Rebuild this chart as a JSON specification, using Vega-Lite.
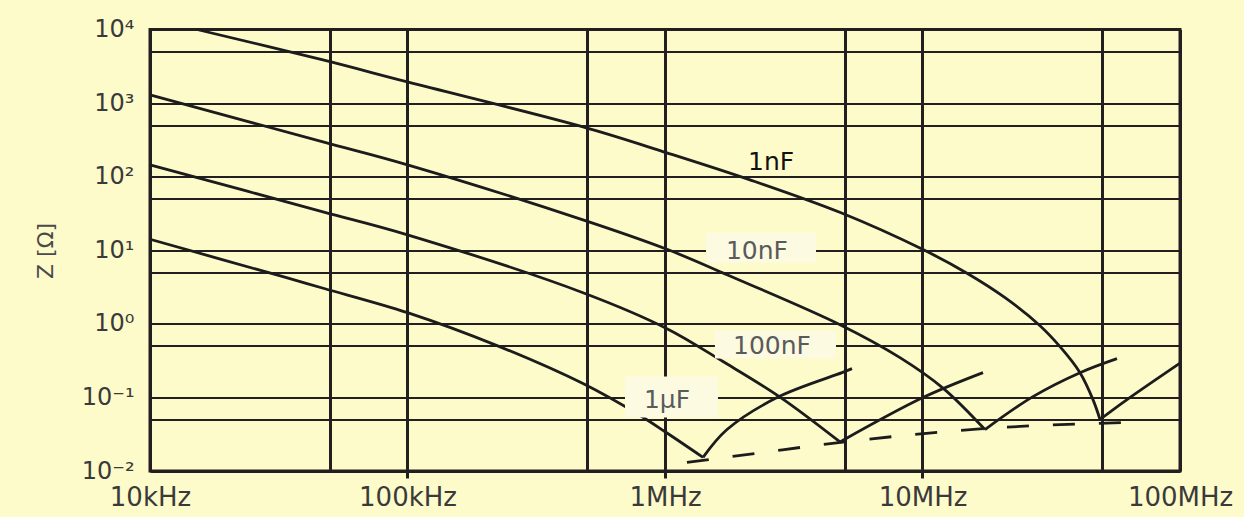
{
  "$schema": "https://vega.github.io/schema/vega-lite/v6.json",
  "width": 1030,
  "height": 441.5,
  "autosize": {"type": "none"},
  "padding": {"left": 150, "top": 29.5, "right": 64, "bottom": 46},
  "background": "#FEFBCB",
  "config": {
    "view": {"stroke": "#231F20", "strokeWidth": 3, "fill": null},
    "font": "DejaVu Sans"
  },
  "datasets": {
    "curves": [
      {"seg": "1nF desc", "f": 15220, "z": 10000},
      {"seg": "1nF desc", "f": 46970, "z": 3855},
      {"seg": "1nF desc", "f": 100000, "z": 1938},
      {"seg": "1nF desc", "f": 480300, "z": 475},
      {"seg": "1nF desc", "f": 1018000, "z": 211},
      {"seg": "1nF desc", "f": 2138000, "z": 90.6},
      {"seg": "1nF desc", "f": 4825000, "z": 32.3},
      {"seg": "1nF desc", "f": 10000000, "z": 10.3},
      {"seg": "1nF desc", "f": 14890000, "z": 4.88},
      {"seg": "1nF desc", "f": 20920000, "z": 2.27},
      {"seg": "1nF desc", "f": 28600000, "z": 0.944},
      {"seg": "1nF desc", "f": 34200000, "z": 0.49},
      {"seg": "1nF desc", "f": 40900000, "z": 0.217},
      {"seg": "1nF desc", "f": 45930000, "z": 0.0933},
      {"seg": "1nF desc", "f": 48900000, "z": 0.0501},
      {"seg": "1nF rise", "f": 48900000, "z": 0.0501},
      {"seg": "1nF rise", "f": 62260000, "z": 0.0933},
      {"seg": "1nF rise", "f": 100000000, "z": 0.292},
      {"seg": "10nF desc", "f": 10000, "z": 1291},
      {"seg": "10nF desc", "f": 46970, "z": 297},
      {"seg": "10nF desc", "f": 100000, "z": 145},
      {"seg": "10nF desc", "f": 480300, "z": 25.9},
      {"seg": "10nF desc", "f": 1018000, "z": 10.3},
      {"seg": "10nF desc", "f": 1741000, "z": 4.65},
      {"seg": "10nF desc", "f": 4782000, "z": 0.975},
      {"seg": "10nF desc", "f": 8176000, "z": 0.348},
      {"seg": "10nF desc", "f": 12010000, "z": 0.134},
      {"seg": "10nF desc", "f": 17480000, "z": 0.0366},
      {"seg": "10nF rise", "f": 17480000, "z": 0.0366},
      {"seg": "10nF rise", "f": 26850000, "z": 0.1026},
      {"seg": "10nF rise", "f": 40900000, "z": 0.217},
      {"seg": "10nF rise", "f": 56920000, "z": 0.337},
      {"seg": "100nF desc", "f": 10000, "z": 145},
      {"seg": "100nF desc", "f": 46970, "z": 33.3},
      {"seg": "100nF desc", "f": 100000, "z": 16.2},
      {"seg": "100nF desc", "f": 480300, "z": 2.65},
      {"seg": "100nF desc", "f": 1018000, "z": 0.86},
      {"seg": "100nF desc", "f": 1680000, "z": 0.307},
      {"seg": "100nF desc", "f": 2797000, "z": 0.101},
      {"seg": "100nF desc", "f": 4782000, "z": 0.0248},
      {"seg": "100nF rise", "f": 4782000, "z": 0.0248},
      {"seg": "100nF rise", "f": 10040000, "z": 0.0995},
      {"seg": "100nF rise", "f": 17180000, "z": 0.217},
      {"seg": "1uF desc", "f": 10000, "z": 14.1},
      {"seg": "1uF desc", "f": 32850, "z": 4.37},
      {"seg": "1uF desc", "f": 47820, "z": 3.0},
      {"seg": "1uF desc", "f": 100000, "z": 1.42},
      {"seg": "1uF desc", "f": 222700, "z": 0.506},
      {"seg": "1uF desc", "f": 480300, "z": 0.154},
      {"seg": "1uF desc", "f": 799800, "z": 0.0568},
      {"seg": "1uF desc", "f": 1018000, "z": 0.0328},
      {"seg": "1uF desc", "f": 1405000, "z": 0.0153},
      {"seg": "1uF rise", "f": 1405000, "z": 0.0153},
      {"seg": "1uF rise", "f": 1741000, "z": 0.0366},
      {"seg": "1uF rise", "f": 2747000, "z": 0.101},
      {"seg": "1uF rise", "f": 4869000, "z": 0.217},
      {"seg": "1uF rise", "f": 5323000, "z": 0.246}
    ],
    "esr": [
      {"f": 1217000, "z": 0.0131},
      {"f": 2236000, "z": 0.0173},
      {"f": 4913000, "z": 0.0247},
      {"f": 17480000, "z": 0.0378},
      {"f": 62260000, "z": 0.0456}
    ],
    "boxes": [
      {"label": "10nF", "f1": 1443000, "f2": 3859000, "z1": 17.3, "z2": 6.76},
      {"label": "100nF", "f1": 1563000, "f2": 4613000, "z1": 0.807, "z2": 0.337},
      {"label": "1µF", "f1": 699400, "f2": 1606000, "z1": 0.192, "z2": 0.0532}
    ],
    "labels": [
      {"label": "1nF", "f": 2581000, "z": 159, "boxed": "no"},
      {"label": "10nF", "f": 2275000, "z": 9.85, "boxed": "yes"},
      {"label": "100nF", "f": 2604000, "z": 0.506, "boxed": "yes"},
      {"label": "1µF", "f": 1018000, "z": 0.0933, "boxed": "yes"}
    ]
  },
  "layer": [
    {
      "data": {"name": "curves"},
      "mark": {"type": "line", "interpolate": "catmull-rom", "color": "#1c1c1c", "strokeWidth": 2.8},
      "encoding": {
        "x": {
          "field": "f", "type": "quantitative",
          "scale": {"type": "log", "domain": [10000, 100000000], "nice": false},
          "axis": {
            "title": null,
            "values": [10000, 50000, 100000, 500000, 1000000, 5000000, 10000000, 50000000, 100000000],
            "labelExpr": "datum.value == 10000 ? '10kHz' : datum.value == 100000 ? '100kHz' : datum.value == 1000000 ? '1MHz' : datum.value == 10000000 ? '10MHz' : datum.value == 100000000 ? '100MHz' : ''",
            "grid": true, "gridColor": "#231F20", "gridWidth": 3, "gridOpacity": 1,
            "domain": false,
            "ticks": true, "tickSize": 7, "tickWidth": 3, "tickColor": "#231F20",
            "tickOpacity": {"condition": {"test": "datum.value == 100000 || datum.value == 1000000 || datum.value == 10000000", "value": 1}, "value": 0},
            "labelFont": "DejaVu Sans", "labelFontSize": 26, "labelColor": "#3a3a3a",
            "labelPadding": 27, "labelBaseline": "alphabetic",
            "labelFlush": false, "labelOverlap": false, "labelBound": false
          }
        },
        "y": {
          "field": "z", "type": "quantitative",
          "scale": {"type": "log", "domain": [0.01, 10000], "nice": false},
          "axis": {
            "title": "Z [Ω]",
            "titleFont": "DejaVu Sans", "titleFontSize": 22, "titleFontWeight": "normal", "titleColor": "#4a4a4a",
            "titleAngle": 270, "titleX": -105, "titleY": 221, "titleAlign": "center", "titleBaseline": "middle",
            "values": [0.01, 0.05, 0.1, 0.5, 1, 5, 10, 50, 100, 500, 1000, 5000, 10000],
            "labelExpr": "datum.value == 10000 ? '10⁴' : datum.value == 1000 ? '10³' : datum.value == 100 ? '10²' : datum.value == 10 ? '10¹' : datum.value == 1 ? '10⁰' : datum.value == 0.1 ? '10⁻¹' : datum.value == 0.01 ? '10⁻²' : ''",
            "grid": true, "gridColor": "#231F20", "gridWidth": 2, "gridOpacity": 1,
            "domain": false, "ticks": false,
            "labelFont": "DejaVu Sans", "labelFontSize": 24, "labelColor": "#3a3a3a",
            "labelPadding": 16, "labelBaseline": "middle", "labelAlign": "right",
            "labelFlush": false, "labelOverlap": false, "labelBound": false
          }
        },
        "detail": {"field": "seg", "type": "nominal"}
      }
    },
    {
      "data": {"name": "esr"},
      "mark": {"type": "line", "interpolate": "monotone", "color": "#1c1c1c", "strokeWidth": 2.8, "strokeDash": [22, 24]},
      "encoding": {
        "x": {"field": "f", "type": "quantitative", "scale": {"type": "log"}},
        "y": {"field": "z", "type": "quantitative", "scale": {"type": "log"}}
      }
    },
    {
      "data": {"name": "boxes"},
      "mark": {"type": "rect", "color": "#FCFAE0", "opacity": 1},
      "encoding": {
        "x": {"field": "f1", "type": "quantitative", "scale": {"type": "log"}},
        "x2": {"field": "f2"},
        "y": {"field": "z1", "type": "quantitative", "scale": {"type": "log"}},
        "y2": {"field": "z2"}
      }
    },
    {
      "data": {"name": "labels"},
      "mark": {"type": "text", "font": "DejaVu Sans", "fontSize": 25, "align": "center", "baseline": "middle"},
      "encoding": {
        "x": {"field": "f", "type": "quantitative", "scale": {"type": "log"}},
        "y": {"field": "z", "type": "quantitative", "scale": {"type": "log"}},
        "text": {"field": "label", "type": "nominal"},
        "color": {
          "field": "boxed", "type": "nominal",
          "scale": {"domain": ["no", "yes"], "range": ["#111111", "#5a5a5a"]},
          "legend": null
        }
      }
    }
  ]
}
